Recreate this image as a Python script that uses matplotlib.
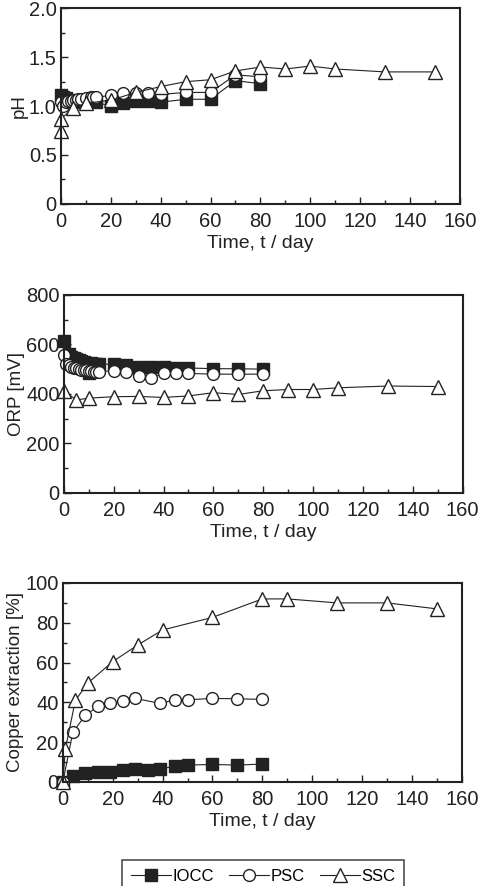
import matplotlib
matplotlib.use("Agg")
import matplotlib.pyplot as plt
from matplotlib.ticker import MultipleLocator
from matplotlib.lines import Line2D

plt.rcParams['font.family'] = ['Liberation Sans', 'DejaVu Sans']

# pH
ph_iocc_t = [0, 1, 2, 3, 4, 5, 7, 10, 14, 20, 25, 30, 35, 40, 50, 60, 70, 80]
ph_iocc = [1.11, 1.09, 1.08, 1.06, 1.05, 1.05, 1.04, 1.04, 1.04, 1.00, 1.03, 1.05, 1.05, 1.04, 1.07, 1.07, 1.26, 1.23]
ph_psc_t = [0, 1, 2, 3, 4, 5, 6, 7, 8, 10, 12, 13, 14, 20, 25, 30, 35, 40, 50, 60, 70, 80]
ph_psc = [1.04, 1.00, 1.04, 1.05, 1.05, 1.06, 1.06, 1.07, 1.07, 1.08, 1.09, 1.09, 1.09, 1.11, 1.13, 1.13, 1.13, 1.12, 1.14, 1.14, 1.32, 1.30]
ph_ssc_t = [0, 0, 5, 10, 20, 30, 40, 50, 60, 70, 80, 90, 100, 110, 130, 150]
ph_ssc = [0.74, 0.87, 0.98, 1.03, 1.06, 1.14, 1.20, 1.25, 1.27, 1.36, 1.40, 1.38, 1.41, 1.38, 1.35, 1.35]

# ORP [mV]
orp_iocc_t = [0, 2, 3, 4, 5, 6, 7, 8, 9, 10, 11, 12, 13, 14, 20, 25, 30, 35, 40, 45, 50, 60, 70, 80]
orp_iocc = [614, 560, 550, 545, 540, 537, 533, 530, 527, 485, 524, 522, 521, 520, 521, 515, 510, 510, 507, 505, 505, 502, 502, 500]
orp_psc_t = [0, 1, 2, 3, 4, 5, 6, 7, 8, 9, 10, 11, 12, 13, 14, 20, 25, 30, 35, 40, 45, 50, 60, 70, 80]
orp_psc = [557, 520, 515, 510, 505, 503, 500, 498, 497, 495, 493, 492, 490, 490, 490, 494, 487, 474, 465, 483, 483, 483, 480, 480, 480]
orp_ssc_t = [0, 5, 10, 20, 30, 40, 50, 60, 70, 80, 90, 100, 110, 130, 150]
orp_ssc = [412, 376, 383, 389, 390, 386, 392, 405, 398, 413, 418, 418, 425, 432, 430]

# Copper extraction [%]
cu_iocc_t = [0, 4, 9, 14, 19, 24, 29, 34, 39, 45, 50, 60, 70, 80]
cu_iocc = [0, 3, 4.5, 5, 5, 6, 6.5, 6, 6.5, 8, 8.5, 8.8, 8.5, 9]
cu_psc_t = [0, 4, 9, 14, 19, 24, 29, 39, 45, 50, 60, 70, 80]
cu_psc = [0, 25, 33.5, 38, 39.7, 40.5, 42, 39.5, 41.3, 41.3, 42, 41.8, 41.5]
cu_ssc_t = [0, 1, 5, 10, 20, 30, 40, 60, 80, 90, 110, 130, 150]
cu_ssc = [0, 16.6, 41, 49.7, 60.5, 68.8, 76.4, 82.7, 92, 92, 90, 90, 87]

labels = ['IOCC', 'PSC', 'SSC']
styles = [dict(marker='s', markerfacecolor='#222222', markersize=8),
          dict(marker='o', markerfacecolor='white', markersize=8.5),
          dict(marker='^', markerfacecolor='white', markersize=10)]

fig = plt.figure(figsize=(4.8, 8.86), dpi=100)

panels = [
    ([0.127, 0.770, 0.831, 0.2205], [(ph_iocc_t, ph_iocc), (ph_psc_t, ph_psc), (ph_ssc_t, ph_ssc)],
     'pH', (0, 2.0), 0.5, 0.25, ['0', '0.5', '1.0', '1.5', '2.0']),
    ([0.133, 0.4436, 0.831, 0.2235], [(orp_iocc_t, orp_iocc), (orp_psc_t, orp_psc), (orp_ssc_t, orp_ssc)],
     'ORP [mV]', (0, 800), 200, 100, None),
    ([0.131, 0.1174, 0.831, 0.2246], [(cu_iocc_t, cu_iocc), (cu_psc_t, cu_psc), (cu_ssc_t, cu_ssc)],
     'Copper extraction [%]', (0, 100), 20, 10, None),
]

for rect, series, ylab, ylim, major, minor, ticklabels in panels:
    ax = fig.add_axes(rect)
    for (t, v), st in zip(series, styles):
        ax.plot(t, v, color='#222222', linewidth=0.8, markeredgecolor='#222222',
                markeredgewidth=1.0, clip_on=False, **st)
    ax.set_xlim(0, 160)
    ax.set_ylim(*ylim)
    ax.xaxis.set_major_locator(MultipleLocator(20))
    ax.xaxis.set_minor_locator(MultipleLocator(10))
    ax.yaxis.set_major_locator(MultipleLocator(major))
    ax.yaxis.set_minor_locator(MultipleLocator(minor))
    if ticklabels:
        ax.set_yticks([0, 0.5, 1.0, 1.5, 2.0])
        ax.set_yticklabels(ticklabels)
    ax.tick_params(which='both', direction='in', labelsize=14.5, colors='#222222', width=1.0)
    ax.tick_params(which='major', length=5)
    ax.tick_params(axis='x', which='major', pad=6)
    ax.tick_params(axis='y', which='major', pad=3)
    ax.tick_params(which='minor', length=3)
    for s in ax.spines.values():
        s.set_linewidth(1.5)
        s.set_color('#222222')
    ax.set_xlabel('Time, t / day', fontsize=14, labelpad=3, color='#222222')
    ax.set_ylabel(ylab, fontsize=13.5, labelpad=1, color='#222222')

handles = [Line2D([], [], color='#222222', linewidth=0.8, markeredgecolor='#222222',
                  markeredgewidth=1.0, **st) for st in styles]
leg = fig.legend(handles, labels, loc='lower center', bbox_to_anchor=(0.548, -0.016), ncol=3,
                 frameon=True, fancybox=False, fontsize=12, handlelength=2.4,
                 handletextpad=0.1, columnspacing=0.9, borderpad=0.5)
leg.get_frame().set_edgecolor('#222222')
leg.get_frame().set_linewidth(1.2)

fig.savefig('out.png', dpi=100)
